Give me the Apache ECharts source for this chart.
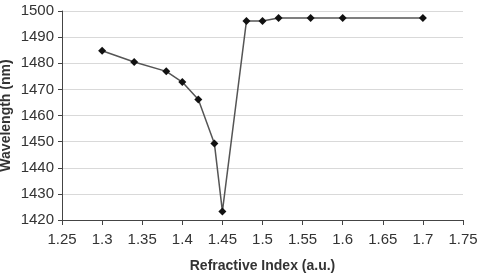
<!DOCTYPE html>
<html>
<head>
<meta charset="utf-8">
<script src="https://cdn.jsdelivr.net/npm/echarts@6/dist/echarts.min.js"></script>
<style>
  html, body { margin: 0; padding: 0; background: #fff; }
  #main { width: 477px; height: 276px; }
</style>
</head>
<body>
<div id="main"></div>
<script>
// refractive index vs resonance wavelength
const refractiveIndex = [1.30, 1.34, 1.38, 1.40, 1.42, 1.44, 1.45, 1.48, 1.50, 1.52, 1.56, 1.60, 1.70];
const wavelength = [1484.8, 1480.5, 1476.9, 1472.8, 1466.1, 1449.3, 1423.3, 1496.2, 1496.2, 1497.3, 1497.3, 1497.3, 1497.3];

const xName = 'Refractive Index (a.u.)';
const yName = 'Wavelength (nm)';

const points = refractiveIndex.map((x, i) => [x, wavelength[i]]);

const myChart = echarts.init(document.getElementById('main'));
myChart.setOption({
    animation: false,
    backgroundColor: '#fff',
    grid: { left: 62, right: 14, top: 11, bottom: 56, outerBoundsMode: 'none', containLabel: false },
    xAxis: {
        type: 'value',
        min: 1.25,
        max: 1.75,
        interval: 0.05,
        name: xName,
        nameLocation: 'middle',
        nameGap: 39,
        nameMoveOverlap: false,
        nameTextStyle: { fontFamily: 'Liberation Sans', fontSize: 14, fontWeight: 'bold', color: '#333' },
        axisLine: { lineStyle: { color: '#444', width: 1 } },
        axisTick: { show: true, length: 5, lineStyle: { color: '#444' } },
        axisLabel: {
            fontFamily: 'Liberation Sans', fontSize: 15, color: '#333', margin: 12,
            formatter: v => String(Math.round(v * 100) / 100)
        },
        splitLine: { show: false }
    },
    yAxis: {
        type: 'value',
        min: 1420,
        max: 1500,
        interval: 10,
        name: yName,
        nameLocation: 'middle',
        nameGap: 49,
        nameMoveOverlap: false,
        nameTextStyle: { fontFamily: 'Liberation Sans', fontSize: 14, fontWeight: 'bold', color: '#333' },
        axisLine: { show: true, lineStyle: { color: '#444', width: 1 } },
        axisTick: { show: true, length: 4, lineStyle: { color: '#444' } },
        axisLabel: { fontFamily: 'Liberation Sans', fontSize: 15, color: '#333', margin: 8, formatter: v => String(v) },
        splitLine: { show: true, lineStyle: { color: '#d9d9d9', width: 1 } }
    },
    series: [{
        type: 'line',
        data: points,
        symbol: 'diamond',
        symbolSize: 8,
        lineStyle: { color: '#555', width: 1.5 },
        itemStyle: { color: '#111' }
    }]
});
</script>
</body>
</html>
